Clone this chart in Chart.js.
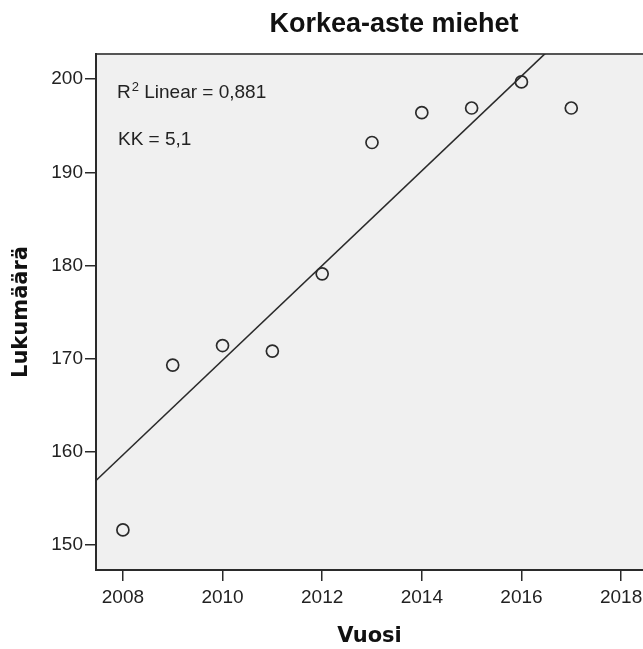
<!DOCTYPE html>
<html>
<head>
<meta charset="utf-8">
<title>Korkea-aste miehet</title>
<script src="https://cdn.jsdelivr.net/npm/chart.js@4/dist/chart.umd.min.js"></script>
<style>
  html, body { margin: 0; padding: 0; background: #fff; }
  canvas { display: block; }
</style>
</head>
<body>
<canvas id="chart" width="643" height="649"></canvas>
<script>
/* ---------------- DATA ---------------- */
const years   = [2008, 2009, 2010, 2011, 2012, 2013, 2014, 2015, 2016, 2017];
const counts  = [151.6, 169.3, 171.4, 170.8, 179.1, 193.2, 196.4, 196.9, 199.7, 196.9];
const xTicks  = [2008, 2010, 2012, 2014, 2016, 2018];
const yTicks  = [150, 160, 170, 180, 190, 200];
const xRange  = [2007.46, 2018.44];
const yRange  = [147.3, 202.7];
const chartTitle = "Korkea-aste miehet";
const xTitle  = "Vuosi";
const yTitle  = "Lukumäärä";
const r2Text  = "0,881";
const kkText  = "KK = 5,1";

/* ------------- linear fit (least squares) ------------- */
const n  = years.length;
const mx = years.reduce((a, b) => a + b, 0) / n;
const my = counts.reduce((a, b) => a + b, 0) / n;
let sxy = 0, sxx = 0;
years.forEach((x, i) => { sxy += (x - mx) * (counts[i] - my); sxx += (x - mx) ** 2; });
const slope = sxy / sxx;
const fitLine = xRange.map(x => ({ x, y: my + slope * (x - mx) }));

/* ---------------- styles ---------------- */
const INK       = "#2a2a2a";
const TICK_FONT = { family: '"Liberation Sans", Arial, sans-serif', size: 19 };
const AXIS_FONT = { family: '"DejaVu Sans", Verdana, sans-serif', size: 21, weight: "bold" };

/* plot background, top frame, title and fit annotation */
const decor = {
  id: "decor",
  beforeDraw(chart) {
    const { ctx, chartArea: a } = chart;
    ctx.save();
    ctx.fillStyle = "#f0f0f0";
    ctx.fillRect(a.left, a.top, a.right - a.left, a.bottom - a.top);
    ctx.strokeStyle = "#555";
    ctx.lineWidth = 2;
    ctx.beginPath();
    ctx.moveTo(a.left, a.top);
    ctx.lineTo(a.right, a.top);
    ctx.stroke();
    ctx.restore();
  },
  afterDraw(chart) {
    const { ctx, chartArea: a } = chart;
    ctx.save();
    ctx.fillStyle = "#111";
    ctx.textAlign = "center";
    ctx.textBaseline = "alphabetic";
    ctx.font = 'bold 27px "Liberation Sans", Arial, sans-serif';
    ctx.fillText(chartTitle, 394, 32);

    ctx.fillStyle = "#222";
    ctx.textAlign = "left";
    let x = a.left + 21;
    ctx.font = '19px "Liberation Sans", Arial, sans-serif';
    ctx.fillText("R", x, 98);
    x += ctx.measureText("R").width;
    ctx.font = '13px "Liberation Sans", Arial, sans-serif';
    ctx.fillText("2", x + 1, 91);
    x += ctx.measureText("2").width + 1;
    ctx.font = '19px "Liberation Sans", Arial, sans-serif';
    ctx.fillText(" Linear = " + r2Text, x, 98);
    ctx.fillText(kkText, a.left + 22, 145);
    ctx.restore();
  }
};

new Chart(document.getElementById("chart"), {
  type: "scatter",
  data: {
    datasets: [
      {
        data: years.map((x, i) => ({ x, y: counts[i] })),
        pointStyle: "circle",
        pointRadius: 6,
        pointBorderWidth: 1.7,
        pointBorderColor: INK,
        pointBackgroundColor: "rgba(0,0,0,0)"
      },
      {
        data: fitLine,
        showLine: true,
        borderColor: INK,
        borderWidth: 1.6,
        pointRadius: 0,
        clip: 0
      }
    ]
  },
  options: {
    responsive: false,
    animation: false,
    events: [],
    layout: { autoPadding: false, padding: { left: 0, top: 54, right: 0, bottom: 0 } },
    plugins: { legend: { display: false }, tooltip: { enabled: false } },
    scales: {
      x: {
        type: "linear",
        min: xRange[0],
        max: xRange[1],
        afterBuildTicks: s => { s.ticks = xTicks.map(v => ({ value: v })); },
        afterFit: s => { s.height = 79; s.paddingLeft = 0; s.paddingRight = 0; },
        ticks: { callback: v => String(v), color: "#222", font: TICK_FONT, padding: 5, maxRotation: 0 },
        grid: { drawOnChartArea: false, drawTicks: true, tickLength: 11, color: INK, lineWidth: 1.5 },
        border: { display: true, color: INK, width: 2 },
        title: { display: true, text: xTitle, color: "#111", font: AXIS_FONT, padding: { top: 0, bottom: 0 } }
      },
      y: {
        type: "linear",
        min: yRange[0],
        max: yRange[1],
        afterBuildTicks: s => { s.ticks = yTicks.map(v => ({ value: v })); },
        afterFit: s => { s.width = 96; s.paddingTop = 0; s.paddingBottom = 0; },
        ticks: { callback: v => String(v), color: "#222", font: TICK_FONT, padding: 2 },
        grid: { drawOnChartArea: false, drawTicks: true, tickLength: 11, color: INK, lineWidth: 1.5 },
        border: { display: true, color: INK, width: 2 },
        title: { display: true, text: yTitle, color: "#111", font: AXIS_FONT, padding: { top: 9, bottom: 0 } }
      }
    }
  },
  plugins: [decor]
});
</script>
</body>
</html>
